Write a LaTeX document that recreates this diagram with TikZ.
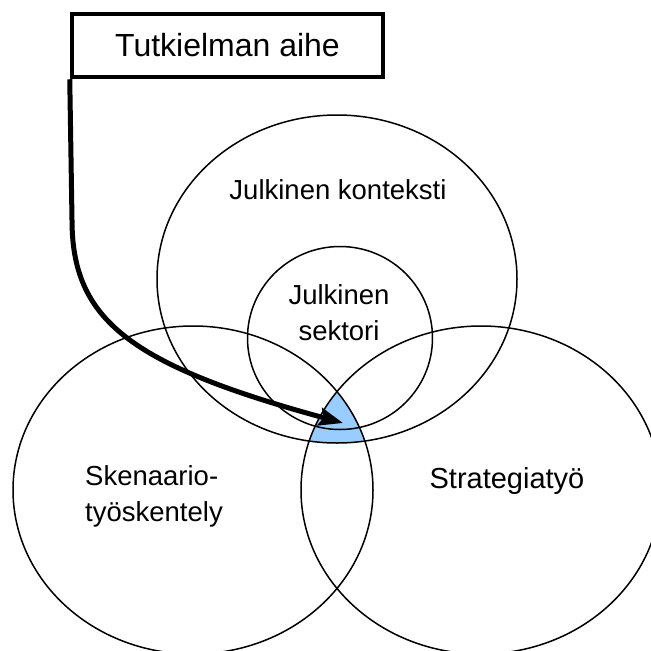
\documentclass[tikz,border=0pt]{standalone}
\usepackage{fontspec}
\setmainfont{Liberation Sans}
\usetikzlibrary{arrows.meta}
\definecolor{overlapblue}{RGB}{153,204,255}
\begin{document}
\begin{tikzpicture}[x=1pt,y=-1pt,
  ring/.style={line width=1.5pt},
  venntext/.style={font=\fontsize{27.5}{36}\selectfont, inner sep=0pt},
  topicbox/.style={draw, line width=4.5pt, minimum width=311pt, minimum height=63pt,
    inner sep=0pt, font=\fontsize{32}{38}\selectfont},
  pointer/.style={line width=5pt, -{Stealth[length=24pt, width=18pt, inset=4pt]}}
]
\clip (0,0) rectangle (651,651);

% centres of the ellipses
\coordinate (ctx) at (337,279);
\coordinate (scn) at (193,490);
\coordinate (str) at (481,490);
\coordinate (sec) at (340,338);

% common part of the three large ellipses
\begin{scope}
  \clip (ctx) ellipse [x radius=180pt, y radius=164pt];
  \clip (scn) ellipse [x radius=180pt, y radius=164pt];
  \fill[overlapblue] (str) ellipse [x radius=180pt, y radius=164pt];
\end{scope}

% outlines
\draw[ring] (ctx) ellipse [x radius=180pt, y radius=164pt];
\draw[ring] (scn) ellipse [x radius=180pt, y radius=164pt];
\draw[ring] (str) ellipse [x radius=180pt, y radius=164pt];
\draw[ring] (sec) ellipse [x radius=92.5pt, y radius=91.5pt];

% labels
\node[venntext] (lctx) at (338,190) {Julkinen konteksti};
\node[venntext, align=center] (lsec) at (339,313) {Julkinen\\sektori};
\node[venntext, align=left] (lscn) at (154,496) {Skenaario-\\työskentely};
\node[venntext, font=\fontsize{29}{36}\selectfont] (lstr) at (507,481) {Strategiatyö};

% topic box and its pointer
\node[topicbox] (topic) at (227.5,45.5) {Tutkielman aihe};
\coordinate (bend) at (72,220);
\coordinate (tip) at (343,423);
\draw[pointer] (topic.south west) -- (bend)
  .. controls (72,320) and (130,365) .. (tip);
\end{tikzpicture}
\end{document}
